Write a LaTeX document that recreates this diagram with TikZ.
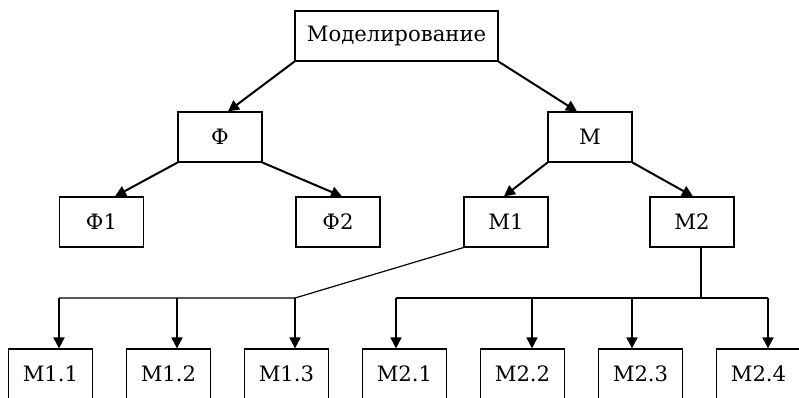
\documentclass[tikz,border=0pt]{standalone}
\usepackage{fontspec}
\setmainfont{DejaVu Serif}
\usetikzlibrary{arrows.meta,calc}

\begin{document}
\begin{tikzpicture}[x=0.5pt,y=-0.5pt,
  box/.style={draw,line width=0.6pt,inner sep=0pt,minimum width=42pt,minimum height=25pt,font=\fontsize{10.6}{12}\selectfont},
  arr/.style={line width=1pt,-{Triangle[width=5.5pt,length=5.5pt]}},
  varr/.style={line width=1pt,-{Triangle[width=5.5pt,length=5.5pt]}},
  bus/.style={line width=0.6pt}]
\useasboundingbox (0,0) rectangle (799,397);
\node[box,minimum width=101.5pt] (mod) at (396.5,36) {Моделирование};
\node[box] (f) at (220,137) {Ф};
\node[box] (m) at (590,137) {М};
\node[box] (f1) at (101.5,222) {Ф1};
\node[box] (f2) at (338,222) {Ф2};
\node[box] (m1) at (506,222) {М1};
\node[box] (m2) at (692,222) {М2};
\node[box] (m11) at (50.5,374) {М1.1};
\node[box] (m12) at (168.5,374) {М1.2};
\node[box] (m13) at (286.5,374) {М1.3};
\node[box] (m21) at (404.5,374) {М2.1};
\node[box] (m22) at (522.5,374) {М2.2};
\node[box] (m23) at (640.5,374) {М2.3};
\node[box] (m24) at (758.5,374) {М2.4};
\draw[arr] (mod.south west) -- ($(f.north)+(8,0)$);
\draw[arr] (mod.south east) -- ($(m.north)+(-13,0)$);
\draw[arr] (f.south west) -- ($(f1.north)+(13.5,0)$);
\draw[arr] (f.south east) -- ($(f2.north)+(4,0)$);
\draw[arr] (m.south west) -- ($(m1.north)+(-2,0)$);
\draw[arr] (m.south east) -- ($(m2.north)+(1,0)$);
\coordinate (j11) at (59,298);
\coordinate (j12) at (177,298);
\coordinate (j13) at (295,298);
\coordinate (j21) at (396,298);
\coordinate (j22) at (532,298);
\coordinate (j23) at (632,298);
\coordinate (j24) at (768,298);
\coordinate (j2) at (701,298);
\draw[bus] (m1.south west) -- (j13) -- (j11);
\draw[bus] (j2 |- m2.south) -- (j2);
\draw[bus] (j21) -- (j24);
\draw[varr] (j11) -- (j11 |- m11.north);
\draw[varr] (j12) -- (j12 |- m12.north);
\draw[varr] (j13) -- (j13 |- m13.north);
\draw[varr] (j21) -- (j21 |- m21.north);
\draw[varr] (j22) -- (j22 |- m22.north);
\draw[varr] (j23) -- (j23 |- m23.north);
\draw[varr] (j24) -- (j24 |- m24.north);
\end{tikzpicture}
\end{document}
